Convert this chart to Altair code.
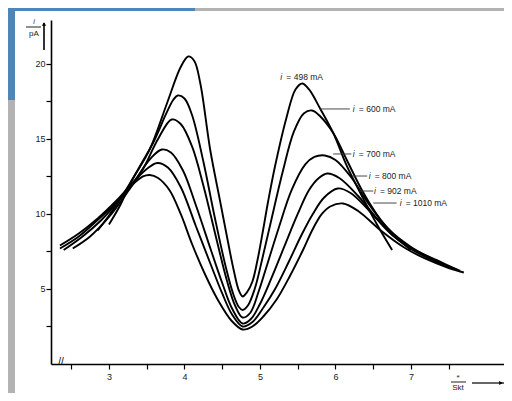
import altair as alt
import pandas as pd

# ---- curve data (x in Skt, y in pA) ----
x498 = [3.0, 3.15, 3.3, 3.54, 3.77, 3.95, 4.05, 4.13, 4.21, 4.34, 4.47, 4.57, 4.65, 4.72, 4.77, 4.83, 4.9, 4.97, 5.04, 5.11, 5.2, 5.35, 5.47, 5.56, 5.65, 5.8, 5.97, 6.15, 6.36, 6.55, 6.75]
y498 = [9.3, 10.6, 12.2, 14.3, 17.4, 19.8, 20.5, 20.2, 18.7, 14.3, 10.9, 8.3, 6.3, 4.9, 4.5, 4.8, 5.5, 7.0, 8.9, 10.9, 13.2, 16.4, 18.3, 18.7, 18.3, 17.0, 15.4, 13.2, 11.1, 9.3, 7.6]

x600 = [2.85, 3.0, 3.2, 3.4, 3.6, 3.75, 3.85, 3.91, 4.0, 4.1, 4.25, 4.4, 4.55, 4.65, 4.72, 4.77, 4.84, 4.93, 5.03, 5.15, 5.3, 5.45, 5.58, 5.69, 5.8, 5.97, 6.15, 6.36, 6.6, 6.8, 7.0]
y600 = [8.9, 9.9, 11.4, 13.1, 14.9, 16.6, 17.6, 17.9, 17.7, 16.6, 13.5, 9.8, 6.4, 4.6, 3.8, 3.6, 3.9, 5.0, 7.0, 9.6, 12.8, 15.5, 16.7, 16.9, 16.5, 15.4, 13.6, 11.5, 9.6, 8.5, 7.6]

x700 = [2.52, 2.75, 3.0, 3.25, 3.45, 3.65, 3.83, 3.95, 4.1, 4.25, 4.42, 4.56, 4.67, 4.77, 4.87, 4.98, 5.1, 5.25, 5.42, 5.6, 5.72, 5.86, 6.0, 6.2, 6.45, 6.7, 7.0, 7.25, 7.45]
y700 = [7.7, 8.5, 9.8, 11.5, 13.0, 15.0, 16.3, 16.0, 14.5, 11.9, 8.4, 5.6, 3.9, 3.1, 3.4, 4.8, 6.7, 9.1, 11.6, 13.3, 13.8, 13.9, 13.6, 12.5, 10.6, 9.0, 7.8, 7.1, 6.6]

x800 = [2.4, 2.65, 2.9, 3.15, 3.35, 3.55, 3.7, 3.82, 3.98, 4.15, 4.35, 4.5, 4.63, 4.77, 4.88, 5.0, 5.15, 5.32, 5.5, 5.65, 5.78, 5.89, 6.05, 6.3, 6.6, 6.9, 7.25, 7.6]
y800 = [7.6, 8.5, 9.6, 11.0, 12.3, 13.7, 14.3, 14.1, 12.9, 10.6, 7.6, 5.4, 3.7, 2.7, 3.0, 4.0, 5.7, 7.8, 10.0, 11.6, 12.4, 12.7, 12.4, 11.2, 9.4, 8.0, 7.0, 6.3]

x902 = [2.35, 2.6, 2.85, 3.1, 3.3, 3.5, 3.64, 3.78, 3.95, 4.15, 4.35, 4.5, 4.63, 4.77, 4.9, 5.05, 5.2, 5.38, 5.55, 5.7, 5.85, 6.03, 6.2, 6.45, 6.75, 7.05, 7.35, 7.65]
y902 = [7.9, 8.7, 9.7, 10.9, 12.0, 13.0, 13.4, 13.1, 11.8, 9.2, 6.6, 4.7, 3.3, 2.5, 2.8, 3.8, 5.0, 6.8, 8.6, 10.0, 11.1, 11.7, 11.4, 10.2, 8.6, 7.6, 6.9, 6.2]

x1010 = [2.35, 2.6, 2.85, 3.1, 3.3, 3.45, 3.54, 3.65, 3.8, 3.95, 4.1, 4.27, 4.45, 4.62, 4.77, 4.9, 5.05, 5.22, 5.4, 5.57, 5.7, 5.82, 5.93, 6.1, 6.3, 6.6, 6.9, 7.2, 7.5, 7.7]
y1010 = [7.7, 8.5, 9.6, 10.8, 11.9, 12.5, 12.6, 12.4, 11.6, 10.0, 8.0, 6.0, 4.2, 2.9, 2.3, 2.5, 3.2, 4.3, 5.9, 7.6, 9.0, 10.0, 10.5, 10.7, 10.2, 8.9, 7.8, 7.0, 6.4, 6.1]

curve_names = ["498", "600", "700", "800", "902", "1010"]
curve_xs = [x498, x600, x700, x800, x902, x1010]
curve_ys = [y498, y600, y700, y800, y902, y1010]

# ---- labels ----
label_text = ["= 498 mA", "= 600 mA", "= 700 mA", "= 800 mA", "= 902 mA", "= 1010 mA"]
label_x = [5.27, 6.23, 6.23, 6.44, 6.51, 6.85]
label_y = [19.13, 17.0, 14.0, 12.53, 11.53, 10.73]
leader_x1 = [None, 5.79, 5.97, 6.22, 6.32, 6.50]
leader_x2 = [None, 6.19, 6.21, 6.42, 6.50, 6.81]

x_ticks = [2.5, 3, 3.5, 4, 4.5, 5, 5.5, 6, 6.5, 7, 7.5]
y_ticks = [2.5, 5, 7.5, 10, 12.5, 15, 17.5, 20]

rows = []
for name, xs, ys in zip(curve_names, curve_xs, curve_ys):
    for i, (xv, yv) in enumerate(zip(xs, ys)):
        rows.append({"curve": name, "x": xv, "y": yv, "ord": i})
df = pd.DataFrame(rows)

lab = pd.DataFrame({"t": label_text, "x": label_x, "y": label_y})
lead = pd.DataFrame({"x1": leader_x1[1:], "x2": leader_x2[1:], "y": label_y[1:]})

XS = alt.Scale(domain=[2.232, 8.232], nice=False, zero=False)
YS = alt.Scale(domain=[0, 22.93], nice=False, zero=False)

FONT = "Liberation Sans"

one = pd.DataFrame({"a": [0]})

# background decoration (scan surroundings)
blue = alt.Chart(one).mark_rect(color="#4f86b8").encode(
    x=alt.value(-43), x2=alt.value(144), y=alt.value(-12), y2=alt.value(80))
paper = alt.Chart(one).mark_rect(color="white").encode(
    x=alt.value(-36), x2=alt.value(470), y=alt.value(-9), y2=alt.value(400))

curves = alt.Chart(df).mark_line(color="black", strokeWidth=1.9, interpolate="catmull-rom").encode(
    x=alt.X("x:Q", scale=XS, axis=alt.Axis(
        values=x_ticks, title=None, grid=False, domainColor="black", domainWidth=1.6,
        tickColor="black", tickSize=5, tickWidth=1.2, labelFont=FONT, labelFontSize=9,
        labelColor="#222", labelPadding=3, zindex=1,
        labelExpr="datum.value % 1 == 0 ? format(datum.value, 'd') : ''")),
    y=alt.Y("y:Q", scale=YS, axis=alt.Axis(
        values=y_ticks, title=None, grid=False, domainColor="black", domainWidth=1.6,
        tickColor="black", tickSize=5, tickWidth=1.2, labelFont=FONT, labelFontSize=9,
        labelColor="#222", labelPadding=1, zindex=1,
        labelExpr="datum.value % 5 == 0 ? format(datum.value, 'd') : ''")),
    detail="curve:N",
    order="ord:Q",
)

labels_i = alt.Chart(lab).mark_text(align="left", baseline="middle", font=FONT, fontSize=8.5,
                                    fontStyle="italic", color="#222").encode(
    x=alt.X("x:Q", scale=XS), y=alt.Y("y:Q", scale=YS), text=alt.value("i"))
labels_t = alt.Chart(lab).mark_text(align="left", baseline="middle", font=FONT, fontSize=8.5,
                                    dx=6, color="#222").encode(
    x=alt.X("x:Q", scale=XS), y=alt.Y("y:Q", scale=YS), text="t:N")
leaders = alt.Chart(lead).mark_rule(color="#333", strokeWidth=0.9).encode(
    x=alt.X("x1:Q", scale=XS), x2="x2:Q", y=alt.Y("y:Q", scale=YS))

# axis break marks
brk = alt.Chart(one).mark_text(text="//", font=FONT, fontSize=10, color="black").encode(
    x=alt.value(10), y=alt.value(342))

# y-axis unit label and arrow
yi = alt.Chart(one).mark_text(text="i", font=FONT, fontSize=7, fontStyle="italic", color="#222").encode(
    x=alt.value(-17), y=alt.value(2))
yline = alt.Chart(one).mark_rule(color="#222", strokeWidth=1).encode(
    x=alt.value(-25), x2=alt.value(-10), y=alt.value(7))
ypa = alt.Chart(one).mark_text(text="pA", font=FONT, fontSize=8, color="#222").encode(
    x=alt.value(-17), y=alt.value(14))
yarrow = alt.Chart(one).mark_rule(color="black", strokeWidth=1.6).encode(
    x=alt.value(-7), y=alt.value(3), y2=alt.value(30))
yhead = alt.Chart(one).mark_point(shape="triangle-up", filled=True, color="black", size=18, opacity=1).encode(
    x=alt.value(-7), y=alt.value(4))

# x-axis unit label and arrow
xstar = alt.Chart(one).mark_text(text="*", font=FONT, fontSize=8, color="#222").encode(
    x=alt.value(407), y=alt.value(358))
xline = alt.Chart(one).mark_rule(color="#222", strokeWidth=1).encode(
    x=alt.value(400), x2=alt.value(415), y=alt.value(362))
xskt = alt.Chart(one).mark_text(text="Skt", font=FONT, fontSize=8, color="#222").encode(
    x=alt.value(407), y=alt.value(368))
xarrow = alt.Chart(one).mark_rule(color="black", strokeWidth=1.2).encode(
    x=alt.value(421), x2=alt.value(453), y=alt.value(363))
xhead = alt.Chart(one).mark_point(shape="triangle-right", filled=True, color="black", size=18, opacity=1).encode(
    x=alt.value(450), y=alt.value(363))

chart = alt.layer(
    blue, paper, curves, leaders, labels_i, labels_t, brk,
    yi, yline, ypa, yarrow, yhead, xstar, xline, xskt, xarrow, xhead
).properties(
    width=453, height=344,
    padding={"left": 43, "top": 12, "right": 0, "bottom": 29},
    autosize=alt.AutoSizeParams(type="none"),
    background="#b3b3b3",
).configure_view(stroke=None)

chart.save("out.html", embed_options={"renderer": "svg", "actions": False})
